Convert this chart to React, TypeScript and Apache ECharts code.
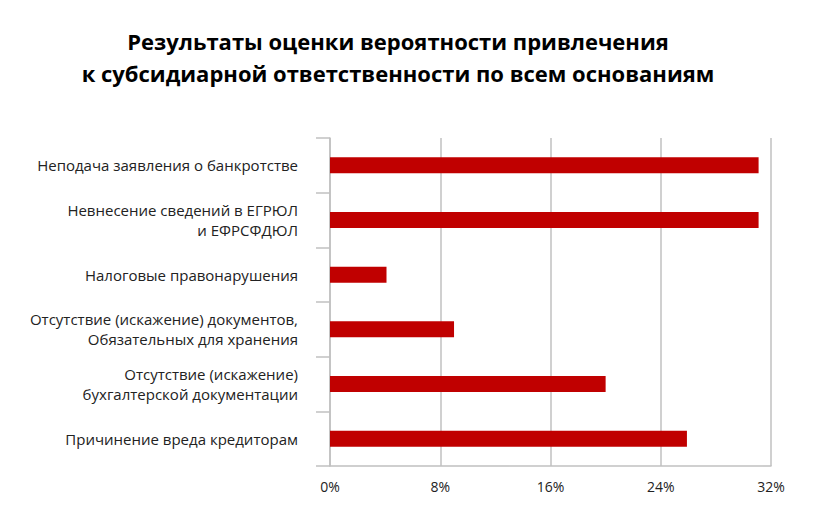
import React, { useEffect, useRef } from "react";
import * as echarts from "echarts";

const titleText = "Результаты оценки вероятности привлечения\nк субсидиарной ответственности по всем основаниям";
const categories = [
  "Неподача заявления о банкротстве",
  "Невнесение сведений в ЕГРЮЛ\nи ЕФРСФДЮЛ",
  "Налоговые правонарушения",
  "Отсутствие (искажение) документов,\nОбязательных для хранения",
  "Отсутствие (искажение)\nбухгалтерской документации",
  "Причинение вреда кредиторам",
];
const values = [31.1, 31.1, 4.1, 9.0, 20.0, 25.9];
const xTicks = { min: 0, max: 32, interval: 8 };

export default function App() {
  const ref = useRef<HTMLDivElement>(null);
  useEffect(() => {
    const chart = echarts.init(ref.current!, null, { renderer: "svg" });
    chart.setOption({
      animation: false,
      backgroundColor: "#ffffff",
      graphic: [
        {
          type: "text",
          x: 398,
          y: 25,
          style: {
            text: titleText,
            align: "center",
            verticalAlign: "top",
            fontFamily: "Open Sans",
            fontWeight: "bold",
            fontSize: 22,
            lineHeight: 32,
            fill: "#000000",
          },
        },
      ],
      grid: { left: 330, right: 53, top: 138, bottom: 60, containLabel: false },
      xAxis: {
        type: "value",
        min: xTicks.min,
        max: xTicks.max,
        interval: xTicks.interval,
        axisLabel: {
          formatter: "{value}%",
          fontFamily: "Open Sans",
          fontSize: 14,
          color: "#222222",
          margin: 13,
        },
        axisLine: { show: true, lineStyle: { color: "#c0c0c0", width: 1.5 } },
        axisTick: { show: false },
        splitLine: { show: true, lineStyle: { color: "#c0c0c0", width: 1.5 } },
      },
      yAxis: {
        type: "category",
        inverse: true,
        data: categories,
        axisLabel: {
          fontFamily: "Open Sans",
          fontSize: 15,
          lineHeight: 20,
          color: "#222222",
          margin: 32,
          align: "right",
        },
        axisLine: { show: true, lineStyle: { color: "#c0c0c0", width: 1.5 } },
        axisTick: { show: true, length: 14, alignWithLabel: false, lineStyle: { color: "#c0c0c0", width: 1.5 } },
        splitLine: { show: false },
      },
      series: [
        {
          type: "bar",
          data: values,
          barWidth: 16,
          itemStyle: { color: "#C00000" },
        },
      ],
    });
    return () => chart.dispose();
  }, []);
  return (
    <div
      ref={ref}
      style={{ position: "fixed", left: 0, top: 0, width: 824, height: 526 }}
    />
  );
}
